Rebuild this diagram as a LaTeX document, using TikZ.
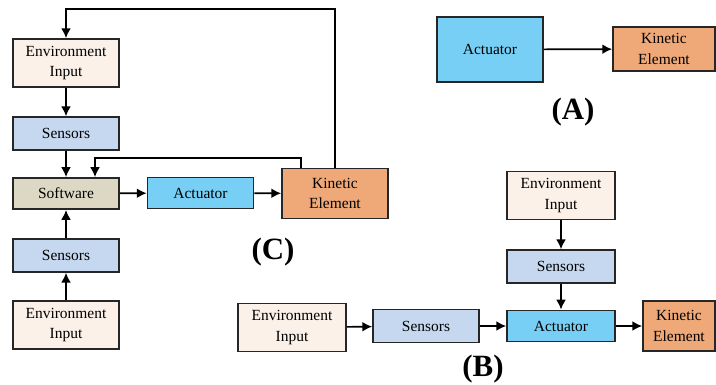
\documentclass[tikz,border=0pt]{standalone}
\usepackage{fontspec}
\setmainfont{Liberation Serif}
\usepackage{tikz}
\usetikzlibrary{shapes,arrows,arrows.meta,positioning,calc}

\definecolor{envcol}{HTML}{FBF1E9}
\definecolor{sencol}{HTML}{C5D8F0}
\definecolor{softcol}{HTML}{DCD8C4}
\definecolor{actcol}{HTML}{78CFF5}
\definecolor{kincol}{HTML}{EFA878}

\begin{document}
\begin{tikzpicture}[
      x=0.025cm, y=-0.025cm,
      box/.style={rectangle, draw=black!85, line width=1.2pt, text centered, inner sep=1pt, font=\fontsize{11}{14.5}\selectfont, align=center},
      envin/.style={box, fill=envcol, minimum width=2.65cm, minimum height=1.2cm},
      sensor/.style={box, fill=sencol, minimum width=2.65cm, minimum height=0.82cm},
      software/.style={box, fill=softcol, minimum width=2.65cm, minimum height=0.78cm},
      actuator/.style={box, fill=actcol, minimum width=2.65cm, minimum height=0.78cm},
      kinetic/.style={box, fill=kincol, minimum width=2.65cm, minimum height=1.25cm},
      tag/.style={font=\fontsize{22}{26}\selectfont\bfseries},
      arrow/.style={-{Latex[length=7pt,width=7pt]}, line width=1.2pt}
    ]
      \useasboundingbox (0,0) rectangle (716,384);

      % (C): closed loop with software
      \node[envin] (envC1) at (66,63) {Environment\\Input};
      \node[sensor] (sensC1) at (66,133.5) {Sensors};
      \node[software] (softC) at (66,193.5) {Software};
      \node[sensor] (sensC2) at (66,255.5) {Sensors};
      \node[envin] (envC2) at (66,325) {Environment\\Input};
      \node[actuator] (actC) at (200.5,193) {Actuator};
      \node[kinetic] (kinC) at (335,193.5) {Kinetic\\Element};
      \node[tag] (labC) at (273,252) {(C)};

      \draw[arrow] (envC1) -- (sensC1);
      \draw[arrow] (sensC1) -- (softC);
      \draw[arrow] (envC2) -- (sensC2);
      \draw[arrow] (sensC2) -- (softC);
      \draw[arrow] (softC) -- (actC);
      \draw[arrow] (actC) -- (kinC);

      % feedback loops
      \coordinate (topline) at (0,9);
      \coordinate (midline) at (0,158);
      \draw[arrow] (kinC.north) -- (kinC.north |- topline) -| (envC1.north);
      \draw[arrow] ($(kinC.north west)+(20,0)$) |- (midline -| {$(softC.north)+(29,0)$}) -- ($(softC.north)+(29,0)$);

      % (A): actuator only
      \node[actuator, minimum height=1.62cm] (actA) at (490,49.5) {Actuator};
      \node[kinetic, minimum width=2.55cm, minimum height=1.1cm] (kinA) at (664,49) {Kinetic\\Element};
      \node[tag] (labA) at (573,112) {(A)};

      \draw[arrow] (actA) -- (kinA);

      % (B): actuator with sensors
      \node[envin, minimum width=2.7cm] (envB1) at (561,195.5) {Environment\\Input};
      \node[sensor, minimum width=2.7cm] (sensB1) at (561,266.5) {Sensors};
      \node[actuator, minimum width=2.7cm] (actB) at (561,326) {Actuator};
      \node[kinetic, minimum width=1.8cm] (kinB) at (679,326) {Kinetic\\Element};
      \node[envin, minimum width=2.7cm] (envB2) at (292,327.5) {Environment\\Input};
      \node[sensor] (sensB2) at (426,326) {Sensors};
      \node[tag] (labB) at (483,369) {(B)};

      \draw[arrow] (envB1) -- (sensB1);
      \draw[arrow] (sensB1) -- (actB);
      \draw[arrow] (envB2) -- (sensB2);
      \draw[arrow] (sensB2) -- (actB);
      \draw[arrow] (actB) -- (kinB);
    \end{tikzpicture}
\end{document}
